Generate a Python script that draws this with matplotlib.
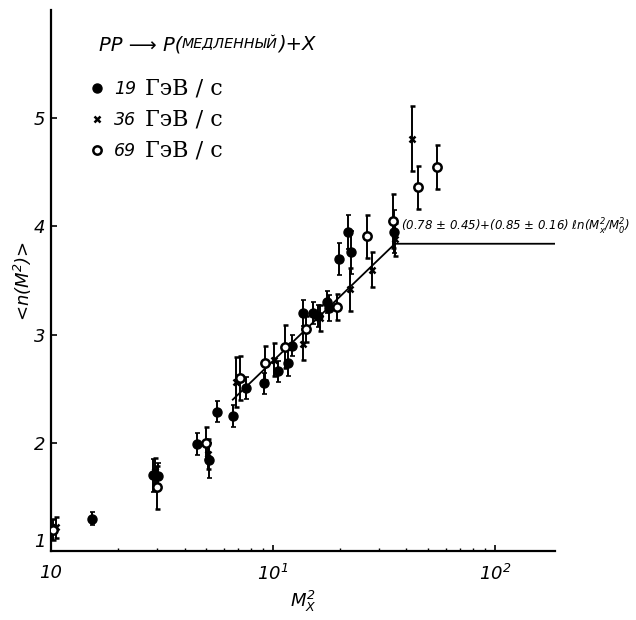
import matplotlib
matplotlib.use("Agg")
import matplotlib.pyplot as plt
from matplotlib.ticker import FixedLocator, LogLocator, NullFormatter

plt.rcParams["mathtext.fontset"] = "custom"
plt.rcParams["mathtext.it"] = "DejaVu Sans:italic"
plt.rcParams["mathtext.rm"] = "DejaVu Sans:italic"

# 19 GeV/c (filled circles)
x19 = [1.53, 2.88, 3.03, 4.55, 5.15, 5.6, 6.6, 7.6, 9.1, 10.5, 11.7, 12.2,
       13.7, 15.1, 15.9, 17.5, 18.0, 19.8, 21.8, 22.5, 35.2]
y19 = [1.30, 1.70, 1.69, 1.99, 1.84, 2.29, 2.25, 2.51, 2.55, 2.66, 2.74, 2.90,
       3.20, 3.20, 3.17, 3.30, 3.25, 3.70, 3.95, 3.76, 3.95]
e19 = [0.06, 0.15, 0.12, 0.10, 0.16, 0.10, 0.10, 0.10, 0.10, 0.10, 0.12, 0.10,
       0.12, 0.10, 0.10, 0.10, 0.12, 0.15, 0.16, 0.20, 0.20]

# 36 GeV/c (crosses)
x36 = [1.05, 2.95, 5.1, 6.8, 10.1, 13.7, 16.3, 22.2, 28.1, 35.5, 42.3]
y36 = [1.22, 1.74, 1.90, 2.56, 2.77, 2.91, 3.15, 3.42, 3.60, 3.88, 4.81]
e36 = [0.10, 0.12, 0.14, 0.23, 0.15, 0.14, 0.12, 0.20, 0.16, 0.15, 0.30]

# 69 GeV/c (open circles)
x69 = [1.02, 3.0, 5.0, 7.1, 9.2, 11.4, 14.1, 19.4, 26.6, 34.7, 45.0, 54.8]
y69 = [1.20, 1.59, 2.00, 2.60, 2.74, 2.89, 3.05, 3.26, 3.91, 4.05, 4.36, 4.55]
e69 = [0.10, 0.20, 0.15, 0.20, 0.16, 0.20, 0.12, 0.12, 0.20, 0.25, 0.20, 0.20]

# fit line
fit_x = [6.6, 35.5, 186]
fit_y = [2.40, 3.84, 3.84]

momenta = ["19", "36", "69"]
unit = "ГэВ / с"
xtick_vals = [1, 10, 100]
xtick_labels = ["10", r"$10^1$", r"$10^2$"]
ytick_vals = [1, 2, 3, 4, 5]

fig = plt.figure(figsize=(6.36, 6.2), dpi=100)
ax = fig.add_axes([0.080, 0.111, 0.792, 0.873])

ax.plot(fit_x, fit_y, "k-", lw=1.3, zorder=2)

eb = dict(ecolor="black", elinewidth=1.4, capsize=1.8, capthick=1.2, ls="none", zorder=3)
c19 = ax.errorbar(x19, y19, yerr=e19, fmt="o", ms=6.5, mfc="black", mec="black", **eb)
c36 = ax.errorbar(x36, y36, yerr=e36, fmt="x", ms=4.5, mew=1.8, color="black", **eb)
c69 = ax.errorbar(x69, y69, yerr=e69, fmt="o", ms=6, mfc="white", mec="black", mew=1.8, **eb)

ax.set_xscale("log")
ax.set_xlim(1, 186)
ax.set_ylim(1, 6)

ax.xaxis.set_major_locator(FixedLocator(xtick_vals))
ax.set_xticklabels(xtick_labels)
ax.xaxis.set_minor_locator(LogLocator(base=10, subs=range(2, 10)))
ax.xaxis.set_minor_formatter(NullFormatter())
ax.set_yticks(ytick_vals)
ax.set_yticklabels([str(v) for v in ytick_vals])

for s in ["top", "right"]:
    ax.spines[s].set_visible(False)
for s in ["left", "bottom"]:
    ax.spines[s].set_linewidth(1.6)

ax.tick_params(which="major", direction="in", length=4, width=1.2, labelsize=13, pad=4)
ax.tick_params(axis="x", which="major", pad=9)
ax.tick_params(which="minor", direction="in", length=2.5, width=1.0)
for t in ax.get_xticklabels() + ax.get_yticklabels():
    t.set_fontstyle("italic")
ax.get_yticklabels()[0].set_verticalalignment("bottom")

ax.set_xlabel(r"$M_X^2$", fontsize=13, labelpad=4)
ax.set_ylabel(r"<n(M$^2$)>", fontsize=13, fontstyle="italic", labelpad=0)

# reaction label with small caps part
t1 = ax.text(0.095, 0.925, "PP ⟶ P(", transform=ax.transAxes, fontsize=14,
             fontstyle="italic", va="baseline")
t2 = ax.annotate("МЕДЛЕННЫЙ", xy=(1, 0.18), xycoords=t1, fontsize=10.3,
                 fontstyle="italic", va="bottom")
ax.annotate(")+X", xy=(1, 0.0), xycoords=t2, xytext=(0, -2),
            textcoords="offset points", fontsize=14, fontstyle="italic", va="bottom")

leg = ax.legend([c19[0], c36[0], c69[0]], momenta, loc="upper left",
                bbox_to_anchor=(0.05, 0.90), frameon=False, handlelength=0.6,
                handletextpad=0.7, labelspacing=0.75,
                prop={"family": "DejaVu Sans", "style": "italic", "size": 12.5})
leg.set_zorder(5)
for lt in leg.get_texts():
    ax.annotate(unit, xy=(1, 0), xycoords=lt, xytext=(6, -1),
                textcoords="offset points", fontsize=16,
                family="DejaVu Serif", va="bottom", zorder=10)

ax.text(35.5 * 1.07, 3.9,
        r"(0.78 ± 0.45)+(0.85 ± 0.16) $\ell$n(M$_x^2$/M$_0^2$)",
        fontsize=8.5, fontstyle="italic", va="bottom", clip_on=False)

fig.savefig("out.png", dpi=100)
